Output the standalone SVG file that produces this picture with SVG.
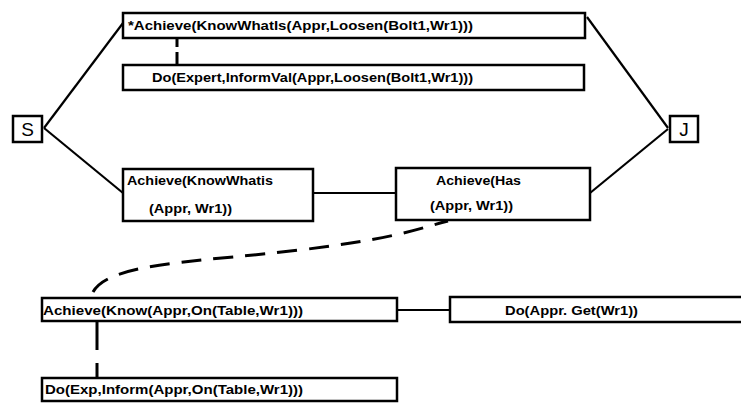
<svg xmlns="http://www.w3.org/2000/svg" width="741" height="403" viewBox="0 0 741 403">
<style>
.box{fill:#fff;stroke:#000;stroke-width:2.5}
.t{font-family:"Liberation Sans",Arial,sans-serif;font-weight:bold;font-size:13px;fill:#000}
.big{font-family:"Liberation Sans",Arial,sans-serif;font-size:19px;fill:#000}
.ln{fill:none;stroke:#000;stroke-width:2.2}
.dash{fill:none;stroke:#000;stroke-width:3}
</style>
<rect width="741" height="403" fill="#fff"/>
<g id="connectors">
<path class="ln" d="M44 128 L123 23"/>
<path class="ln" d="M44 128 L123 193"/>
<path class="ln" d="M587 17 L668 128"/>
<path class="ln" d="M590 193 L668 129"/>
<path class="ln" d="M313 193 L396 193"/>
<path class="ln" d="M397 310 L450 310"/>
<path class="dash" d="M177 38 V47 M177 52 V65"/>
<path class="dash" d="M97 321 V350 M97 363 V378"/>
<path class="dash" d="M93 292 C110 262 200 262 300 250 S420 228 448 221" stroke-dasharray="20 12"/>
</g>
<g id="S"><rect class="box" x="13" y="116" width="29" height="26"/><text class="big" x="27.5" y="136" text-anchor="middle">S</text></g>
<g id="J"><rect class="box" x="670" y="116" width="28" height="26"/><text class="big" x="684" y="136" text-anchor="middle">J</text></g>
<g id="n1"><rect class="box" x="123" y="13" width="462" height="25"/><text class="t" x="128" y="30" textLength="345" lengthAdjust="spacingAndGlyphs">*Achieve(KnowWhatIs(Appr,Loosen(Bolt1,Wr1)))</text></g>
<g id="n2"><rect class="box" x="123" y="65" width="461" height="25"/><text class="t" x="152" y="82" textLength="321" lengthAdjust="spacingAndGlyphs">Do(Expert,InformVal(Appr,Loosen(Bolt1,Wr1)))</text></g>
<g id="n3"><rect class="box" x="123" y="169" width="190" height="52"/><text class="t" x="127" y="185" textLength="146" lengthAdjust="spacingAndGlyphs">Achieve(KnowWhatis</text><text class="t" x="149" y="213" textLength="83" lengthAdjust="spacingAndGlyphs">(Appr, Wr1))</text></g>
<g id="n4"><rect class="box" x="396" y="168" width="194" height="52"/><text class="t" x="436" y="185" textLength="85" lengthAdjust="spacingAndGlyphs">Achieve(Has</text><text class="t" x="430" y="210" textLength="83" lengthAdjust="spacingAndGlyphs">(Appr, Wr1))</text></g>
<g id="n5"><rect class="box" x="42" y="298" width="355" height="23"/><text class="t" x="43" y="315" textLength="260" lengthAdjust="spacingAndGlyphs">Achieve(Know(Appr,On(Table,Wr1)))</text></g>
<g id="n6"><rect class="box" x="450" y="297" width="300" height="25"/><text class="t" x="505" y="315" textLength="133" lengthAdjust="spacingAndGlyphs">Do(Appr. Get(Wr1))</text></g>
<g id="n7"><rect class="box" x="42" y="378" width="355" height="23"/><text class="t" x="45" y="394" textLength="258" lengthAdjust="spacingAndGlyphs">Do(Exp,Inform(Appr,On(Table,Wr1)))</text></g>
</svg>
